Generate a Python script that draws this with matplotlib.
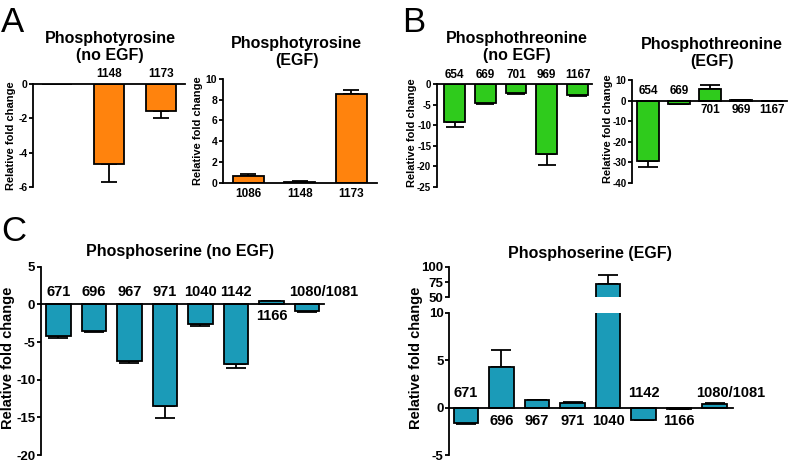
import numpy as np
import matplotlib
matplotlib.use("Agg")
import matplotlib.pyplot as plt

plt.rcParams['font.family'] = ['Liberation Sans', 'DejaVu Sans']
plt.rcParams['font.weight'] = 'bold'
plt.rcParams['axes.unicode_minus'] = False

W, H = 789, 461

# panel A: phosphotyrosine
tyr_sites = ["1086", "1148", "1173"]
tyr_noegf = [0.0, -4.65, -1.6]
tyr_noegf_err = [0.0, 1.05, 0.4]
tyr_egf = [0.6, 0.1, 8.6]
tyr_egf_err = [0.2, 0.05, 0.35]

# panel B: phosphothreonine
thr_sites = ["654", "669", "701", "969", "1167"]
thr_noegf = [-9.3, -4.7, -2.2, -17.1, -2.7]
thr_noegf_err = [1.1, 0.2, 0.3, 2.7, 0.2]
thr_egf = [-29.3, -1.5, 5.7, 0.3, -0.3]
thr_egf_err = [3.2, 0.1, 1.9, 0.1, 0.1]

# panel C: phosphoserine
ser_sites = ["671", "696", "967", "971", "1040", "1142", "1166", "1080/1081"]
ser_noegf = [-4.2, -3.5, -7.5, -13.5, -2.6, -7.9, 0.4, -0.9]
ser_noegf_err = [0.3, 0.15, 0.25, 1.6, 0.3, 0.5, 0.1, 0.1]
ser_egf = [-1.6, 4.3, 0.75, 0.45, 72.0, -1.3, -0.1, 0.35]
ser_egf_err = [0.1, 1.8, 0.1, 0.1, 14.0, 0.05, 0.05, 0.15]

ORANGE = "#FF830D"
GREEN = "#2FCB1C"
TEAL = "#1B9BB8"


def px_axes(fig, x0, x1, ytop, ybot):
    return fig.add_axes([x0 / W, 1 - ybot / H, (x1 - x0) / W, (ybot - ytop) / H])


def style(ax, fs):
    for s in ["top", "right"]:
        ax.spines[s].set_visible(False)
    ax.spines["bottom"].set_position(("data", 0))
    ax.spines["left"].set_linewidth(1.3)
    ax.spines["bottom"].set_linewidth(1.3)
    ax.set_xticks([])
    ax.tick_params(axis="y", direction="out", length=3, width=1.3, labelsize=fs, pad=1)
    for lab in ax.get_yticklabels():
        lab.set_fontweight("bold")


def ylab(ax, fs, x, y):
    ax.set_ylabel("Relative fold change", fontsize=fs, fontweight="bold")
    ax.yaxis.set_label_coords(x, y)


def bars(ax, vals, errs, color, width):
    x = np.arange(len(vals))
    ax.bar(x, vals, width=width, color=color, edgecolor="black", linewidth=1.3, zorder=2)
    for xi, v, e in zip(x, vals, errs):
        if e <= 0:
            continue
        sign = 1 if v >= 0 else -1
        ax.errorbar(xi, v, yerr=[[0], [e]] if sign > 0 else [[e], [0]], color="black",
                    capsize=width * 10, elinewidth=1.3, capthick=1.3, zorder=1)


def site_labels(ax, sites, above, fs, up=10, down=11, shift=None):
    for i, (s, a) in enumerate(zip(sites, above)):
        if a is None:
            continue
        dx = 0
        if shift and s in shift:
            dx = shift[s]
        ax.annotate(s, (i, 0), xytext=(dx, up if a else -down), textcoords="offset pixels",
                    ha="center", va="center", fontsize=fs, fontweight="bold")


fig = plt.figure(figsize=(W / 100, H / 100), dpi=100)

# ---- A left
ax = px_axes(fig, 33, 185, 84, 187)
bars(ax, tyr_noegf, tyr_noegf_err, ORANGE, 0.58)
ax.set_xlim(-0.46, 2.46)
ax.set_ylim(-6, 0)
ax.set_yticks([0, -2, -4, -6])
style(ax, 7.5)
ylab(ax, 8, -0.11, 0.5)
site_labels(ax, tyr_sites, [None, True, True], 8.5)
ax.set_title("Phosphotyrosine\n(no EGF)", fontsize=11.5, fontweight="bold", pad=17, x=(110 - 33) / 152)

# ---- A right
ax = px_axes(fig, 222.7, 377, 79, 182.7)
bars(ax, tyr_egf, tyr_egf_err, ORANGE, 0.6)
ax.set_xlim(-0.5, 2.5)
ax.set_ylim(0, 10)
ax.set_yticks([0, 2, 4, 6, 8, 10])
style(ax, 7.5)
ylab(ax, 8, -0.125, 0.5)
site_labels(ax, tyr_sites, [False] * 3, 8.5)
ax.set_title("Phosphotyrosine\n(EGF)", fontsize=11.5, fontweight="bold", pad=10, x=(296.7 - 222.7) / 154.3)

# ---- B left
ax = px_axes(fig, 436.7, 592, 84, 186.7)
bars(ax, thr_noegf, thr_noegf_err, GREEN, 0.68)
ax.set_xlim(-0.58, 4.47)
ax.set_ylim(-25, 0)
ax.set_yticks([0, -5, -10, -15, -20, -25])
style(ax, 7)
ylab(ax, 8, -0.125, 0.53)
site_labels(ax, thr_sites, [True] * 5, 8.5, up=9)
ax.set_title("Phosphothreonine\n(no EGF)", fontsize=11.5, fontweight="bold", pad=17, x=(517 - 436.7) / 155.3)

# ---- B right
ax = px_axes(fig, 632, 787, 80, 182.7)
bars(ax, thr_egf, thr_egf_err, GREEN, 0.7)
ax.set_xlim(-0.52, 4.48)
ax.set_ylim(-40, 10)
ax.set_yticks([10, 0, -10, -20, -30, -40])
style(ax, 7)
ylab(ax, 8, -0.125, 0.53)
site_labels(ax, thr_sites, [True, True, False, False, False], 8.5, up=10, down=9)
ax.set_title("Phosphothreonine\n(EGF)", fontsize=11.5, fontweight="bold", pad=10, x=(711.7 - 632) / 155)

# ---- C left
ax = px_axes(fig, 40.7, 324, 266.7, 455)
bars(ax, ser_noegf, ser_noegf_err, TEAL, 0.69)
ax.set_xlim(-0.5, 7.48)
ax.set_ylim(-20, 5)
ax.set_yticks([5, 0, -5, -10, -15, -20])
style(ax, 9.5)
ylab(ax, 10.5, -0.091, 0.515)
site_labels(ax, ser_sites, [True] * 6 + [False, True], 10.5, up=12, down=12, shift={"1080/1081": 17})
ax.set_title("Phosphoserine (no EGF)", fontsize=11.5, fontweight="bold", pad=8, x=(180 - 40.7) / 283.3)

# ---- C right, broken y axis
lo = px_axes(fig, 449.3, 733, 312.7, 455)
hi = px_axes(fig, 449.3, 733, 266.7, 297.3)
for a in (lo, hi):
    bars(a, ser_egf, ser_egf_err, TEAL, 0.69)
    a.set_xlim(-0.47, 7.52)
lo.set_ylim(-5, 10)
lo.set_yticks([-5, 0, 5, 10])
style(lo, 9.5)
hi.set_ylim(50, 100)
hi.set_yticks([50, 75, 100])
style(hi, 9.5)
hi.spines["bottom"].set_visible(False)
ylab(lo, 10.5, -0.093, 0.68)
site_labels(lo, ser_sites, [True, False, False, False, False, True, False, True], 10.5,
            up=15, down=13, shift={"1080/1081": 16})
hi.set_title("Phosphoserine (EGF)", fontsize=11.5, fontweight="bold", pad=6, x=(590 - 449.3) / 283.7)

# panel letters
fig.text(1 / W, 1 - 23 / H, "A", fontsize=25, fontweight="normal", va="center")
fig.text(402 / W, 1 - 23 / H, "B", fontsize=25, fontweight="normal", va="center")
fig.text(1 / W, 1 - 231 / H, "C", fontsize=25, fontweight="normal", va="center")

fig.savefig("out.png", dpi=100)
